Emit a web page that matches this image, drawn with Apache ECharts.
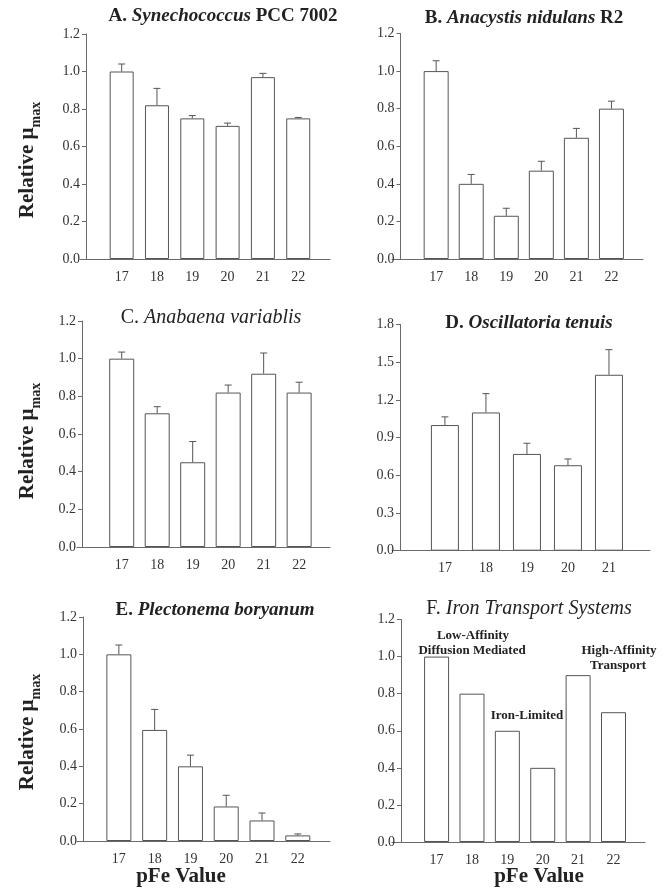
<!DOCTYPE html>
<html>
<head>
<meta charset="utf-8">
<script src="https://cdn.jsdelivr.net/npm/echarts@6/dist/echarts.min.js"></script>
<style>
html,body{margin:0;padding:0;background:#fff;}
#chart{width:665px;height:896px;}
</style>
</head>
<body>
<div id="chart"></div>
<script>
// ---- data ----
const pFe6 = [17, 18, 19, 20, 21, 22];
const pFe5 = [17, 18, 19, 20, 21];

const valuesA = [1.00, 0.82, 0.75, 0.71, 0.97, 0.75];
const errorsA = [0.04, 0.09, 0.015, 0.015, 0.02, 0.005];

const valuesB = [1.00, 0.40, 0.23, 0.47, 0.645, 0.80];
const errorsB = [0.055, 0.05, 0.04, 0.05, 0.05, 0.04];

const valuesC = [1.00, 0.71, 0.45, 0.82, 0.92, 0.82];
const errorsC = [0.035, 0.035, 0.11, 0.04, 0.11, 0.055];

const valuesD = [1.00, 1.10, 0.77, 0.68, 1.40];
const errorsD = [0.065, 0.15, 0.085, 0.05, 0.20];

const valuesE = [1.00, 0.595, 0.40, 0.185, 0.11, 0.03];
const errorsE = [0.05, 0.11, 0.06, 0.06, 0.04, 0.008];

const valuesF = [1.0, 0.8, 0.6, 0.4, 0.9, 0.7];

const yTicksStd = {max: 1.2, interval: 0.2};
const yTicksD = {max: 1.8, interval: 0.3};

// ---- layout ----
const panels = [
  {cats: pFe6, vals: valuesA, errs: errorsA, y: yTicksStd, left: 80, right: 330, top: 34, bottom: 259, xMin: 15.82, xMax: 22.9, yAxisX: 86, barW: 24},
  {cats: pFe6, vals: valuesB, errs: errorsB, y: yTicksStd, left: 392, right: 643, top: 33.5, bottom: 259, xMin: 15.74, xMax: 22.9, yAxisX: 400.5, barW: 25},
  {cats: pFe6, vals: valuesC, errs: errorsC, y: yTicksStd, left: 77, right: 330, top: 321, bottom: 547, xMin: 15.74, xMax: 22.87, yAxisX: 82, barW: 25},
  {cats: pFe5, vals: valuesD, errs: errorsD, y: yTicksD, left: 392, right: 650, top: 324.5, bottom: 550.7, xMin: 15.71, xMax: 22.0, yAxisX: 400, barW: 28},
  {cats: pFe6, vals: valuesE, errs: errorsE, y: yTicksStd, left: 77, right: 330, top: 617, bottom: 841, xMin: 15.83, xMax: 22.9, yAxisX: 83, barW: 25},
  {cats: pFe6, vals: valuesF, errs: null, y: yTicksStd, left: 392, right: 645, top: 619.5, bottom: 842, xMin: 15.74, xMax: 22.89, yAxisX: 401, barW: 25}
];

const SERIF = '"Liberation Serif", "Times New Roman", serif';
const AXIS_COLOR = '#6a6a6a';
const BAR_BORDER = '#555';

const grids = [], xAxes = [], yAxes = [], series = [];
panels.forEach((p, i) => {
  grids.push({left: p.left, top: p.top, width: p.right - p.left, height: p.bottom - p.top, outerBoundsMode: 'none', containLabel: false});
  xAxes.push({
    gridIndex: i, type: 'value', min: p.xMin, max: p.xMax,
    axisLine: {show: true, onZero: false, lineStyle: {color: AXIS_COLOR, width: 1}},
    axisTick: {show: false},
    splitLine: {show: false},
    axisLabel: {customValues: p.cats, formatter: v => String(v), fontFamily: SERIF, fontSize: 14, color: '#333', margin: 11}
  });
  yAxes.push({
    gridIndex: i, type: 'value', min: 0, max: p.y.max, interval: p.y.interval,
    offset: p.left - p.yAxisX,
    axisLine: {show: true, onZero: false, lineStyle: {color: AXIS_COLOR, width: 1}},
    axisTick: {show: true, length: 4, lineStyle: {color: AXIS_COLOR}},
    splitLine: {show: false},
    axisLabel: {formatter: v => v.toFixed(1), fontFamily: SERIF, fontSize: 14, color: '#333', margin: 6}
  });
  series.push({
    type: 'bar', xAxisIndex: i, yAxisIndex: i, barWidth: p.barW,
    data: p.cats.map((c, k) => [c, p.vals[k]]),
    itemStyle: {color: '#fff', borderColor: BAR_BORDER, borderWidth: 1},
    silent: true, animation: false
  });
  if (p.errs) {
    series.push({
      type: 'custom', xAxisIndex: i, yAxisIndex: i,
      data: p.cats.map((c, k) => [c, p.vals[k], p.errs[k]]),
      renderItem: (params, api) => {
        const x = api.value(0), v = api.value(1), e = api.value(2);
        const base = api.coord([x, v]);
        const top = api.coord([x, v + e]);
        const cap = 3.5;
        return {
          type: 'group',
          children: [
            {type: 'line', shape: {x1: base[0], y1: base[1], x2: top[0], y2: top[1]}, style: {stroke: BAR_BORDER, lineWidth: 1}},
            {type: 'line', shape: {x1: top[0] - cap, y1: top[1], x2: top[0] + cap, y2: top[1]}, style: {stroke: BAR_BORDER, lineWidth: 1}}
          ]
        };
      },
      silent: true, animation: false, z: 3
    });
  }
});

const richTitle = {
  b: {fontFamily: SERIF, fontSize: 19, fontWeight: 'bold', fill: '#222'},
  bi: {fontFamily: SERIF, fontSize: 19, fontWeight: 'bold', fontStyle: 'italic', fill: '#222'},
  n: {fontFamily: SERIF, fontSize: 20, fill: '#222'},
  ni: {fontFamily: SERIF, fontSize: 20, fontStyle: 'italic', fill: '#222'}
};
function titleText(text, x, y) {
  return {type: 'text', x: x, y: y, style: {text: text, rich: richTitle, align: 'center', verticalAlign: 'middle'}, silent: true};
}
const richY = {
  r: {fontFamily: SERIF, fontSize: 21, fontWeight: 'bold', fill: '#222', verticalAlign: 'bottom', lineHeight: 24},
  s: {fontFamily: SERIF, fontSize: 14, fontWeight: 'bold', fill: '#222', verticalAlign: 'bottom', lineHeight: 14, padding: [0, 0, -5, 0]}
};
function yName(x, y) {
  return {type: 'text', x: x, y: y, rotation: Math.PI / 2, style: {text: '{r|Relative μ}{s|max}', rich: richY, align: 'center', verticalAlign: 'middle'}, silent: true};
}
function plain(text, x, y, size, bold) {
  return {type: 'text', x: x, y: y, style: {text: text, fontFamily: SERIF, fontSize: size, fontWeight: bold ? 'bold' : 'normal', fill: '#222', align: 'center', verticalAlign: 'middle'}, silent: true};
}

const graphics = [
  titleText('{b|A. }{bi|Synechococcus}{b| PCC 7002}', 223, 16),
  titleText('{b|B. }{bi|Anacystis nidulans}{b| R2}', 524, 18),
  titleText('{n|C. }{ni|Anabaena variablis}', 211, 318),
  titleText('{b|D. }{bi|Oscillatoria tenuis}', 529, 323),
  titleText('{b|E. }{bi|Plectonema boryanum}', 215, 610),
  titleText('{n|F. }{ni|Iron Transport Systems}', 529, 609),
  yName(26, 160), yName(26, 441), yName(26, 732),
  plain('pFe Value', 181, 877, 21, true),
  plain('pFe Value', 539, 877, 21, true),
  plain('Low-Affinity', 473, 636, 13, true),
  plain('Diffusion Mediated', 472, 651, 13, true),
  plain('Iron-Limited', 527, 716, 13, true),
  plain('High-Affinity', 619, 651, 13, true),
  plain('Transport', 618, 666, 13, true)
];

const chart = echarts.init(document.getElementById('chart'), null, {renderer: 'canvas'});
chart.setOption({
  backgroundColor: '#fff',
  animation: false,
  grid: grids,
  xAxis: xAxes,
  yAxis: yAxes,
  series: series,
  graphic: graphics
});
</script>
</body>
</html>
